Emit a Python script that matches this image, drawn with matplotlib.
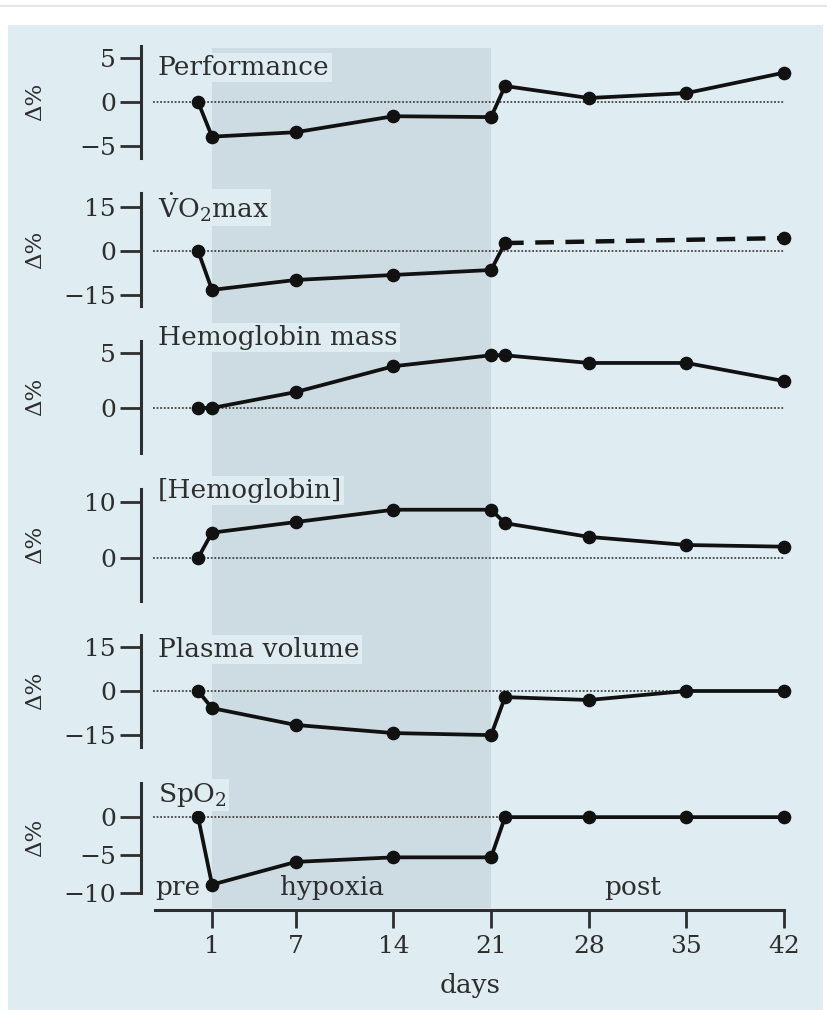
import matplotlib
matplotlib.use("Agg")
import matplotlib.pyplot as plt
from matplotlib.patches import Rectangle
from matplotlib.lines import Line2D

plt.rcParams["font.family"] = ["DejaVu Serif"]
plt.rcParams["mathtext.fontset"] = "dejavuserif"

# ---------------------------------------------------------------- data
days_all = [0, 1, 7, 14, 21, 22, 28, 35, 42]
performance = [0, -3.9, -3.4, -1.6, -1.7, 1.8, 0.45, 1.0, 3.3]
vo2max_days = [0, 1, 7, 14, 21, 22]
vo2max = [0, -13.3, -9.9, -8.2, -6.5, 2.7]
vo2max_post_days = [22, 42]
vo2max_post = [2.7, 4.4]
hb_mass = [0, 0, 1.45, 3.8, 4.8, 4.8, 4.1, 4.1, 2.45]
hb_conc = [0, 4.5, 6.4, 8.6, 8.6, 6.2, 3.75, 2.3, 2.0]
plasma = [0, -5.9, -11.7, -14.5, -15.2, -2.1, -3.1, 0, 0]
spo2 = [0, -8.9, -5.9, -5.3, -5.3, 0, 0, 0, 0]

panel_labels = ["Performance", r"$\dot{\mathrm{V}}\mathrm{O}_2\mathrm{max}$",
                "Hemoglobin mass", "[Hemoglobin]", "Plasma volume",
                r"$\mathrm{SpO}_2$"]
panel_ticks = [[-5, 0, 5], [-15, 0, 15], [0, 5], [0, 10], [-15, 0, 15], [-10, -5, 0]]
day_ticks = [1, 7, 14, 21, 28, 35, 42]
hypoxia = (1, 21)

# ---------------------------------------------------------------- layout (pixels)
W, H = 828, 1010
BG = "#dfedf2"
SHADE = "#cddce2"
TXT = "#2e2e2e"
X0, X1 = -4.09, 43.14          # data range of axes spanning px 141..800


def box(x0, y0, x1, y1):
    return [x0 / W, 1 - y1 / H, (x1 - x0) / W, (y1 - y0) / H]


def fx(px):
    return px / W


def fy(py):
    return 1 - py / H


fig = plt.figure(figsize=(W / 100, H / 100), dpi=100)
fig.patch.set_facecolor("white")
fig.patches.append(Rectangle((fx(8), 0), fx(823) - fx(8), fy(25), transform=fig.transFigure,
                             facecolor=BG, edgecolor="none", zorder=-10))
fig.lines.append(Line2D([0, 1], [fy(6), fy(6)], transform=fig.transFigure,
                        color="#e2e2e2", lw=1.2, zorder=-10))

# hypoxia shading
bg_ax = fig.add_axes(box(141, 48, 800, 908))
bg_ax.set_xlim(X0, X1)
bg_ax.axvspan(*hypoxia, color=SHADE, lw=0)
bg_ax.axis("off")

# (top px, bottom px, ylim lo, ylim hi, label baseline px)
panel_geo = [(46, 158, -6.3, 6.3, 75),
             (193, 306, -18.8, 19.8, 218),
             (341, 453, -4.1, 6.1, 345),
             (489, 601, -7.7, 12.3, 498),
             (635, 747, -19.3, 19.3, 657),
             (783, 893, -10, 4.5, 802)]

series = [(days_all, performance), (vo2max_days, vo2max), (days_all, hb_mass),
          (days_all, hb_conc), (days_all, plasma), (days_all, spo2)]

for k, ((top, bot, lo, hi, base), (xs, ys)) in enumerate(zip(panel_geo, series)):
    ax = fig.add_axes(box(141, top, 800, bot))
    ax.set_facecolor("none")
    ax.set_xlim(X0, X1)
    ax.set_ylim(lo, hi)
    for s in ("top", "right", "bottom"):
        ax.spines[s].set_visible(False)
    ax.spines["left"].set_linewidth(2.2)
    ax.spines["left"].set_color(TXT)
    ax.set_xticks([])
    ax.set_yticks(panel_ticks[k])
    ax.set_yticklabels([str(t).replace("-", "\u2212") for t in panel_ticks[k]])
    ax.tick_params(axis="y", direction="out", length=15, width=2.0, color=TXT,
                   labelsize=18, labelcolor=TXT, pad=3)
    ax.plot([-3.2, 42], [0, 0], color="#444444", lw=1.3, ls=(0, (1, 1)), zorder=1)
    ax.plot(xs, ys, color="#111111", lw=2.7, marker="o", ms=8.8, clip_on=False, zorder=3)
    if k == 1:
        ax.plot(vo2max_post_days, vo2max_post, color="#111111", lw=3.2, ls=(0, (4.2, 2.6)),
                clip_on=False, zorder=3)
        ax.plot(vo2max_post_days[-1:], vo2max_post[-1:], color="#111111", marker="o",
                ms=8.8, clip_on=False, zorder=3)
    fig.text(fx(158), fy(base), panel_labels[k], fontsize=19, color=TXT,
             ha="left", va="baseline",
             bbox=dict(facecolor=BG, edgecolor="none", pad=1.5))
    fig.text(fx(35), fy((top + bot) / 2), "Δ%", rotation=90, fontsize=16.5, color=TXT,
             ha="center", va="center")

# x axis
xax = fig.add_axes(box(141, 860, 800, 910))
xax.set_facecolor("none")
xax.set_xlim(X0, X1)
for s in ("top", "right", "left"):
    xax.spines[s].set_visible(False)
xax.spines["bottom"].set_bounds(-3.1, 42)
xax.spines["bottom"].set_linewidth(2.2)
xax.spines["bottom"].set_color(TXT)
xax.set_yticks([])
xax.set_xticks(day_ticks)
xax.tick_params(axis="x", direction="out", length=13, width=2.0, color=TXT,
                labelsize=18, labelcolor=TXT, pad=5)

fig.text(fx(155), fy(895), "pre", fontsize=19, color=TXT, ha="left", va="baseline")
fig.text(fx(332), fy(895), "hypoxia", fontsize=19, color=TXT, ha="center", va="baseline")
fig.text(fx(633), fy(895), "post", fontsize=19, color=TXT, ha="center", va="baseline")
fig.text(fx(470), fy(993), "days", fontsize=19, color=TXT, ha="center", va="baseline")

fig.savefig("out.png", dpi=100)
